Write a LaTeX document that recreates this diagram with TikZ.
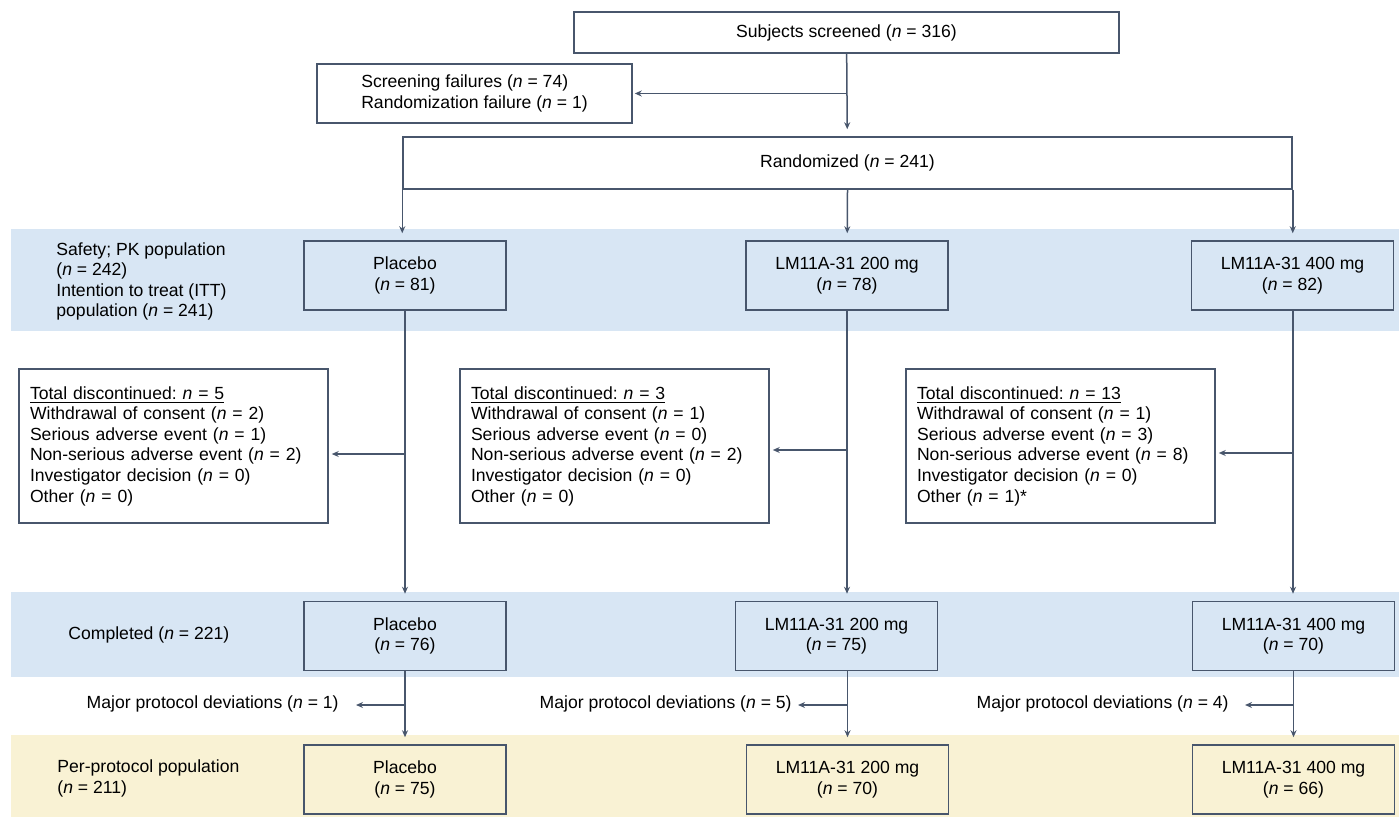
\documentclass[tikz,border=0pt]{standalone}
\usepackage{fontspec}
\setmainfont{Liberation Sans}
\usetikzlibrary{arrows.meta,positioning}

\definecolor{linec}{RGB}{72,86,108}
\definecolor{bandblue}{RGB}{216,230,244}
\definecolor{bandyellow}{RGB}{249,242,212}
\newcommand{\nn}{\textit{n}}

\begin{document}
\begin{tikzpicture}[x=0.5pt,y=-0.5pt,font=\fontsize{8.8}{10.3}\selectfont]

    \tikzstyle{box} = [draw=linec, rectangle, line width=0.75pt, align=center]

    \tikzstyle{arm} = [draw=linec, rectangle, line width=0.75pt, align=center,
    minimum width=101pt, minimum height=34.5pt]

    \tikzstyle{why} = [draw=linec, rectangle, line width=0.75pt, align=left,
    text width=143.5pt, inner xsep=5.5pt, minimum height=77pt]

    \tikzstyle{lab} = [align=left, inner sep=0pt]

    \tikzstyle{link} = [draw=linec, line width=0.75pt, -{Stealth[length=3.5pt,width=3pt]}]

    \useasboundingbox (0,0) rectangle (1400,817);

    % bands
    \fill[bandblue] (11,229) rectangle (1399,331);
    \fill[bandblue] (11,592) rectangle (1399,677);
    \fill[bandyellow] (11,735) rectangle (1399,817);

    \draw
    (846.5,32.5) node [box, minimum width=272.5pt, minimum height=20.5pt] (screened) {Subjects screened (\nn{} = 316)}
    (474.5,93.5) node [box, align=left, minimum width=157.5pt, minimum height=29.5pt] (fail) {Screening failures (\nn{} = 74)\\Randomization failure (\nn{} = 1)}
    (847.5,163) node [box, minimum width=444.5pt, minimum height=26pt] (rand) {Randomized (\nn{} = 241)}
    (405,275.5) node [arm] (pl1) {Placebo\\(\nn{} = 81)}
    (847,275.5) node [arm] (mid1) {LM11A-31 200 mg\\(\nn{} = 78)}
    (1292.5,275.5) node [arm] (hi1) {LM11A-31 400 mg\\(\nn{} = 82)}
    (173.5,446) node [why] (d1) {\underline{Total discontinued:\ \nn{} = 5}\\Withdrawal of consent (\nn{} = 2)\\Serious adverse event (\nn{} = 1)\\Non-serious adverse event (\nn{} = 2)\\Investigator decision (\nn{} = 0)\\Other (\nn{} = 0)}
    (614.5,446) node [why] (d2) {\underline{Total discontinued:\ \nn{} = 3}\\Withdrawal of consent (\nn{} = 1)\\Serious adverse event (\nn{} = 0)\\Non-serious adverse event (\nn{} = 2)\\Investigator decision (\nn{} = 0)\\Other (\nn{} = 0)}
    (1060.5,446) node [why] (d3) {\underline{Total discontinued:\ \nn{} = 13}\\Withdrawal of consent (\nn{} = 1)\\Serious adverse event (\nn{} = 3)\\Non-serious adverse event (\nn{} = 8)\\Investigator decision (\nn{} = 0)\\Other (\nn{} = 1)*}
    (405,636) node [arm] (pl2) {Placebo\\(\nn{} = 76)}
    (836.5,636) node [arm] (mid2) {LM11A-31 200 mg\\(\nn{} = 75)}
    (1293.5,636) node [arm] (hi2) {LM11A-31 400 mg\\(\nn{} = 70)}
    (405,779.5) node [arm] (pl3) {Placebo\\(\nn{} = 75)}
    (847.5,779.5) node [arm] (mid3) {LM11A-31 200 mg\\(\nn{} = 70)}
    (1293.5,779.5) node [arm] (hi3) {LM11A-31 400 mg\\(\nn{} = 66)}
    ;

    % row labels
    \node [lab, anchor=west] (safety) at (56,281.5) {Safety; PK population\\(\nn{} = 242)\\Intention to treat (ITT)\\population (\nn{} = 241)};
    \node [lab, anchor=west] (completed) at (68,635) {Completed (\nn{} = 221)};
    \node [lab, anchor=west] (perprot) at (57,778.5) {Per-protocol population\\(\nn{} = 211)};

    \node [lab, anchor=east] (dev1) at (339,704) {Major protocol deviations (\nn{} = 1)};
    \node [lab, anchor=east] (dev2) at (792,704) {Major protocol deviations (\nn{} = 5)};
    \node [lab, anchor=east] (dev3) at (1229,704) {Major protocol deviations (\nn{} = 4)};

    \coordinate (k1) at (405,454);
    \coordinate (k2) at (847,450);
    \coordinate (k3) at (1293,453);
    \coordinate (t1) at (356,705);
    \coordinate (t2) at (798,705);
    \coordinate (t3) at (1245,705);

    \draw [link, shorten >=3.5pt] (screened) -- (rand);
    \draw [link, shorten >=1pt] (screened.south |- fail.east) -- (fail.east);

    \draw [link, shorten >=3.5pt] (rand.south west) -- (rand.south west |- pl1.north);
    \draw [link, shorten >=3.5pt] (rand.south) -- (mid1);
    \draw [link, shorten >=3.5pt] (rand.south east) -- (rand.south east |- hi1.north);

    \draw [link, shorten >=3.5pt] (pl1) -- (pl2);
    \draw [link, shorten >=3.5pt] (mid1) -- (mid1.south |- mid2.north);
    \draw [link, shorten >=3.5pt] (hi1.south -| k3) -- (k3 |- hi2.north);
    \draw [link, shorten >=1.5pt] (k1) -- (k1 -| d1.east);
    \draw [link, shorten >=1.5pt] (k2) -- (k2 -| d2.east);
    \draw [link, shorten >=1.5pt] (k3) -- (k3 -| d3.east);

    \draw [link, shorten >=3.5pt] (pl2) -- (pl3);
    \draw [link, shorten >=3.5pt] (mid2.south -| mid3) -- (mid3);
    \draw [link, shorten >=3.5pt] (hi2) -- (hi3);
    \draw [link] (pl2.south |- t1) -- (t1);
    \draw [link] (mid3 |- t2) -- (t2);
    \draw [link] (hi2.south |- t3) -- (t3);
  \end{tikzpicture}
\end{document}
